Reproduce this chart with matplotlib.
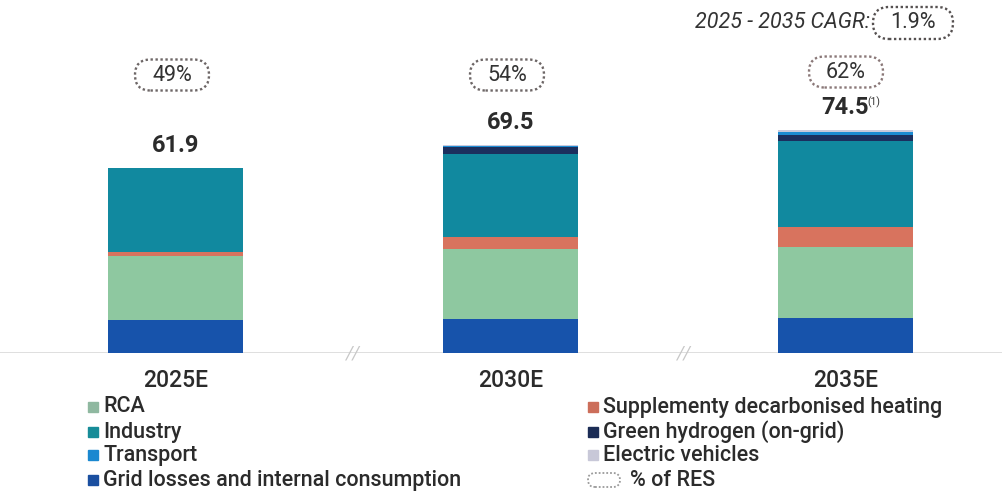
import matplotlib.pyplot as plt
from matplotlib.patches import Rectangle, FancyBboxPatch

plt.rcParams['font.family'] = ['Roboto', 'DejaVu Sans']

# ===== DATA =====
years = ["2025E", "2030E", "2035E"]
totals = [61.9, 69.5, 74.5]
res_share = ["49%", "54%", "62%"]
cagr = "1.9%"

grid_losses = [11.0, 11.3, 11.6]
rca = [21.6, 23.6, 23.9]
heating = [1.2, 4.0, 6.7]
industry = [28.0, 27.7, 28.7]
hydrogen = [0.0, 2.2, 2.0]
transport = [0.1, 0.5, 0.9]
ev = [0.0, 0.2, 0.7]

# stacking order bottom -> top
series = [
    ("Grid losses and internal consumption", grid_losses, "#1753ab"),
    ("RCA", rca, "#8ec8a0"),
    ("Supplementy decarbonised heating", heating, "#d8735e"),
    ("Industry", industry, "#11899f"),
    ("Green hydrogen (on-grid)", hydrogen, "#1b2f5e"),
    ("Transport", transport, "#1c8bd2"),
    ("Electric vehicles", ev, "#c9c9dc"),
]

legend_left = ["RCA", "Industry", "Transport", "Grid losses and internal consumption"]
legend_right = ["Supplementy decarbonised heating", "Green hydrogen (on-grid)", "Electric vehicles"]
legend_marker_colors = {
    "RCA": "#8fb8a0", "Industry": "#178c98", "Transport": "#1a88d0",
    "Grid losses and internal consumption": "#1a4fa0",
    "Supplementy decarbonised heating": "#cc6e5a",
    "Green hydrogen (on-grid)": "#1b2c55", "Electric vehicles": "#c8c8d8",
}

# ===== FIGURE =====
W, H = 1002, 494
fig = plt.figure(figsize=(W / 100, H / 100), dpi=100)
base_px = 353          # baseline (pixels from top)
px_per_unit = 2.99
step_px = 335
first_px = 175.5

ax = fig.add_axes([0, (H - base_px) / H, 1, base_px / H])
ax.set_xlim(-first_px / step_px, (W - first_px) / step_px)
ax.set_ylim(0, base_px / px_per_unit)
ax.axis("off")

x = list(range(len(years)))
bottom = [0.0] * len(years)
for name, vals, col in series:
    ax.bar(x, vals, width=135 / step_px, bottom=bottom, color=col, linewidth=0)
    bottom = [b + v for b, v in zip(bottom, vals)]

ax.axhline(0, color="#d9d9d9", lw=1.2, zorder=0)

# axis breaks
for xb in [0.53, 1.52]:
    ax.text(xb, 0, "//", color="#c8c8c8", fontsize=13, ha="center", va="center",
            style="italic")


def pill(cx, cy, w, h, ec="#6d6666", lw=1.7):
    """dotted rounded box, pixel coords from top-left"""
    fig.patches.append(FancyBboxPatch(((cx - w / 2) / 100, (H - cy - h / 2) / 100),
                                      w / 100, h / 100,
                                      boxstyle=f"round,pad=0,rounding_size={h / 200:.3f}",
                                      transform=fig.dpi_scale_trans, fc="white",
                                      ec=ec, ls=(0, (1, 1.1)), lw=lw))


pill_px = [(172, 75), (507, 75), (846, 72)]
for i, (t, s) in enumerate(zip(totals, res_share)):
    ax.text(i, t + 7.5, f"{t:.1f}", ha="center", va="center", fontsize=17,
            fontweight="bold", color="#2b2b2b")
    cx, cy = pill_px[i]
    pill(cx, cy, 74, 31, ec="#6d6666" if i < 2 else "#8a7878")
    fig.text(cx / W, 1 - cy / H, s, ha="center", va="center", fontsize=15.5,
             color="#333333")
ax.text(2 + 0.066, totals[2] + 9.4, "(1)", ha="left", va="center", fontsize=7.5,
        color="#333333")

fig.text(870 / W, 1 - 23 / H, "2025 - 2035 CAGR:", ha="right", va="center",
         fontsize=15.5, style="italic", color="#333333")
pill(913, 23, 80, 32, ec="#555050")
fig.text(913 / W, 1 - 23 / H, cagr, ha="center", va="center", fontsize=15.5,
         color="#333333")

for i, y in enumerate(years):
    fig.text((first_px + i * step_px) / W, 1 - 380 / H, y, ha="center", va="center",
             fontsize=16.5, fontweight="medium", color="#2b2b2b")

# ===== LEGEND =====
rows_px = [407, 432, 455, 480]


def legend_item(xm, yc, label):
    fig.patches.append(Rectangle((xm / W, 1 - (yc + 5) / H), 10 / W, 10 / H,
                                 transform=fig.transFigure,
                                 color=legend_marker_colors[label]))
    fig.text((xm + 15) / W, 1 - yc / H, label, ha="left", va="center",
             fontsize=15.5, fontweight="medium", color="#2b2b2b")


for yc, lab in zip(rows_px, legend_left):
    legend_item(88, yc, lab)
for yc, lab in zip(rows_px, legend_right):
    legend_item(588, yc, lab)

pill(604, 480, 32, 14, ec="#9a9a9a", lw=1.3)
fig.text(630 / W, 1 - 480 / H, "% of RES", ha="left", va="center",
         fontsize=15.5, fontweight="medium", color="#2b2b2b")

fig.savefig("out.png", dpi=100, facecolor="white")
